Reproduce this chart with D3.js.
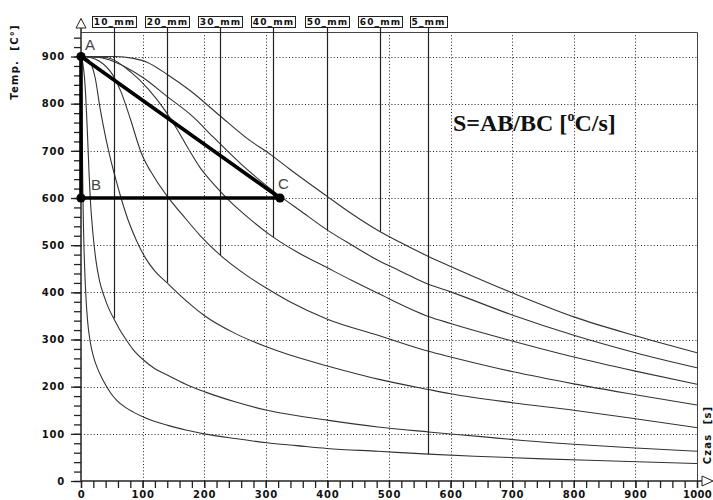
<!DOCTYPE html>
<html><head><meta charset="utf-8">
<script src="https://cdn.jsdelivr.net/npm/d3@7"></script>
<style>body{margin:0;background:#fff} svg{display:block}</style>
</head><body>
<svg id="chart" width="713" height="500"></svg>
<script>
// ---------- data ----------
const xTickValues = d3.range(0, 1001, 100);
const yTickValues = d3.range(0, 901, 100);
const xMinorTicks = d3.range(0, 1001, 20);
const yMinorTicks = d3.range(0, 941, 20);
const xGridValues = d3.range(100, 901, 100);
const yGridValues = d3.range(100, 901, 100);

const seriesNames = ["5_mm","10_mm","20_mm","30_mm","40_mm","50_mm","60_mm"];
const curve5mm = [[0,900],[1,820],[2,720],[3,620],[4,540],[6,450],[8,390],[11,335],[15,295],[20,265],[28,235],[36,213],[49,185],[58,171],[72,156],[85,146],[102,135],[120,126],[141,118],[170,108],[200,100],[250,90],[302,81],[350,75],[399,69],[482,63],[564,57],[650,52],[750,47],[850,43],[1000,37]];
const curve10mm = [[0,900],[3,885],[6,850],[9,780],[11,720],[13,655],[15,600],[19,530],[24,470],[30,425],[38,390],[45,366],[53,345],[62,323],[72,302],[85,278],[102,256],[120,238],[141,224],[170,205],[201,189],[250,168],[302,150],[339,141],[399,129],[482,114.5],[564,104],[650,94],[717,86],[800,78],[900,70],[1000,63]];
const curve20mm = [[0,900],[8,897],[15,888],[23,855],[31,790],[39,735],[47,688],[56,642],[65,600],[76,555],[90,510],[105,472],[120,445],[139,421],[170,383],[200,351],[250,313],[302,284],[339,267],[400,244],[482,216],[564,194],[600,185],[700,166],[800,150],[900,132],[1000,113]];
const curve30mm = [[0,900],[15,898],[30,890],[52,860],[65,825],[80,768],[98,695],[120,642],[144,597],[170,556],[193,521],[226,479],[270,435],[302,408],[339,380],[400,343],[482,309],[564,275],[600,263],[700,232],[800,206],[900,183],[1000,161]];
const curve40mm = [[0,900],[40,898],[80,868],[110,830],[134,790],[155,748],[174,705],[193,665],[215,630],[241,594],[270,560],[312,517],[350,486],[400,452],[440,425],[482,398],[564,349],[600,334],[700,297],[800,263],[900,233],[1000,205]];
const curve50mm = [[0,900],[30,898],[52,890],[80,872],[101,855],[140,815],[182,772],[214,730],[260,672],[290,638],[322,605],[355,574],[400,532],[440,500],[482,468],[517,446],[564,417],[600,401],[700,352],[800,309],[900,272],[1000,240]];
const curve60mm = [[0,900],[55,900],[85,896],[107,888],[140,862],[177,828],[225,775],[269,727],[309,691],[339,661],[399,604],[440,566],[485,529],[518,506],[564,476],[600,455],[700,399],[800,348],[900,308],[1000,272]];
const allCurves = [curve5mm, curve10mm, curve20mm, curve30mm, curve40mm, curve50mm, curve60mm];

const markerLabels = ["10_mm","20_mm","30_mm","40_mm","50_mm","60_mm","5_mm"];
const markerTimes  = [53, 139, 226, 312, 400, 485, 564];
const markerTemps  = [345, 421, 479, 517, 532, 529, 57];

const pointNames = ["A","B","C"];
const pointTimes = [0, 0, 323];
const pointTemps = [900, 600, 600];

const yTitle = "Temp.  [C°]";
const xTitle = "Czas  [s]";
const formulaMain = "S=AB/BC [";
const formulaSup = "o";
const formulaEnd = "C/s]";

// ---------- layout ----------
const svg = d3.select("#chart");
const x = d3.scaleLinear().domain([0, 1000]).range([81, 697]);
const y = d3.scaleLinear().domain([0, 952]).range([481, 32]);
const tickFont = "DejaVu Sans";

// grid
const grid = svg.append("g").attr("stroke", "#222").attr("stroke-width", 1).attr("stroke-dasharray", "1,2.2");
grid.selectAll(".gx").data(xGridValues).join("line")
  .attr("x1", d => Math.round(x(d)) + 0.5).attr("x2", d => Math.round(x(d)) + 0.5)
  .attr("y1", y(952)).attr("y2", y(0));
grid.selectAll(".gy").data(yGridValues).join("line")
  .attr("y1", d => Math.round(y(d)) + 0.5).attr("y2", d => Math.round(y(d)) + 0.5)
  .attr("x1", x(0)).attr("x2", x(1000));

// frame (top and right)
svg.append("path")
  .attr("d", `M${x(0)},${y(952)+0.5}H${x(1000)+0.5}V${y(0)}`)
  .attr("fill", "none").attr("stroke", "#444").attr("stroke-width", 1);

// curves
const line = d3.line().x(d => x(d[0])).y(d => y(d[1])).curve(d3.curveMonotoneX);
svg.append("g").selectAll("path").data(allCurves).join("path")
  .attr("d", line).attr("fill", "none").attr("stroke", "#333").attr("stroke-width", 1.1);

// header boxes + marker lines
const boxTop = 17, boxBottom = 28;
const mk = svg.append("g");
markerTimes.forEach((t, i) => {
  const cx = Math.round(x(t)) + 0.5;
  mk.append("line").attr("x1", cx).attr("x2", cx)
    .attr("y1", boxBottom).attr("y2", y(markerTemps[i]))
    .attr("stroke", "#222").attr("stroke-width", 1.2);
  const txt = mk.append("text").attr("x", cx).attr("y", 25)
    .attr("text-anchor", "middle")
    .attr("font-family", tickFont).attr("font-weight", "bold")
    .attr("font-size", 9).attr("letter-spacing", "1.1px")
    .attr("fill", "#111").text(markerLabels[i]);
  const w = txt.node().getComputedTextLength();
  mk.insert("rect", "text").attr("x", Math.round(cx - w/2 - 2) + 0.5).attr("y", boxTop - 0.5)
    .attr("width", Math.round(w + 3)).attr("height", boxBottom - boxTop)
    .attr("fill", "#fff").attr("stroke", "#222").attr("stroke-width", 1);
});

// axes
function styleAxis(g) {
  g.select(".domain").remove();
  g.selectAll(".tick line").attr("stroke", "#222").attr("stroke-width", 1.3);
  g.selectAll("text").attr("font-family", tickFont).attr("font-weight", "bold")
    .attr("font-size", 10).attr("letter-spacing", "0.8px").attr("fill", "#111");
}
svg.append("g").attr("transform", `translate(${x(0)},0)`)
  .call(d3.axisLeft(y).tickValues(yMinorTicks).tickSize(7).tickFormat(""))
  .call(styleAxis);
svg.append("g").attr("transform", `translate(${x(0)},0)`)
  .call(d3.axisLeft(y).tickValues(yTickValues).tickSize(10).tickPadding(6).tickFormat(d3.format("d")))
  .call(styleAxis);
svg.append("g").attr("transform", `translate(0,${y(0)})`)
  .call(d3.axisBottom(x).tickValues(xMinorTicks).tickSize(7).tickFormat(""))
  .call(styleAxis);
const xAxisG = svg.append("g").attr("transform", `translate(0,${y(0)})`)
  .call(d3.axisBottom(x).tickValues(xTickValues).tickSize(7).tickPadding(3).tickFormat(d3.format("d")))
  .call(styleAxis);
xAxisG.selectAll("text").filter(d => d === 1000).attr("letter-spacing", "0.3px");

// axis lines with arrow heads
svg.append("line").attr("x1", x(0)).attr("x2", x(0)).attr("y1", y(0)).attr("y2", 28)
  .attr("stroke", "#222").attr("stroke-width", 1.5);
svg.append("line").attr("x1", x(0)).attr("x2", 702).attr("y1", y(0)).attr("y2", y(0))
  .attr("stroke", "#222").attr("stroke-width", 1.5);
svg.append("path").attr("d", `M${x(0)},18.5L${x(0)+5},28L${x(0)-5},28Z`)
  .attr("fill", "#fff").attr("stroke", "#222").attr("stroke-width", 1);
svg.append("path").attr("d", `M702,${y(0)-5}L713,${y(0)}L702,${y(0)+5}Z`)
  .attr("fill", "#fff").attr("stroke", "#222").attr("stroke-width", 1);

// axis titles
svg.append("text").attr("transform", "translate(18,62) rotate(-90)")
  .attr("text-anchor", "middle").attr("font-family", tickFont).attr("font-weight", "bold")
  .attr("font-size", 10).attr("letter-spacing", "1.2px").style("white-space", "pre")
  .attr("fill", "#111").text(yTitle);
svg.append("text").attr("transform", "translate(710.5,435) rotate(-90)")
  .attr("text-anchor", "middle").attr("font-family", tickFont).attr("font-weight", "bold")
  .attr("font-size", 10).attr("letter-spacing", "1.2px").style("white-space", "pre")
  .attr("fill", "#111").text(xTitle);

// triangle A-B-C
const P = pointNames.map((n, i) => [x(pointTimes[i]), y(pointTemps[i])]);
svg.append("path").attr("d", `M${P[0]}L${P[1]}L${P[2]}Z`)
  .attr("fill", "none").attr("stroke", "#000").attr("stroke-width", 3.6)
  .attr("stroke-linejoin", "round");
svg.append("g").selectAll("circle").data(P).join("circle")
  .attr("cx", d => d[0]).attr("cy", d => d[1]).attr("r", 4.6).attr("fill", "#000");
const labelOffsets = [[4, -7], [10, -8], [-2, -9]];
svg.append("g").selectAll("text").data(pointNames).join("text")
  .attr("x", (d, i) => P[i][0] + labelOffsets[i][0])
  .attr("y", (d, i) => P[i][1] + labelOffsets[i][1])
  .attr("font-family", "Liberation Sans").attr("font-size", 15)
  .attr("fill", "#444").text(d => d);

// formula
const f = svg.append("text").attr("x", 453).attr("y", 131)
  .attr("font-family", "Liberation Serif").attr("font-weight", "bold")
  .attr("font-size", 24).attr("fill", "#111");
f.append("tspan").text(formulaMain);
f.append("tspan").attr("font-size", 14).attr("dy", -10).text(formulaSup);
f.append("tspan").attr("font-size", 24).attr("dy", 10).text(formulaEnd);
</script>
</body></html>
